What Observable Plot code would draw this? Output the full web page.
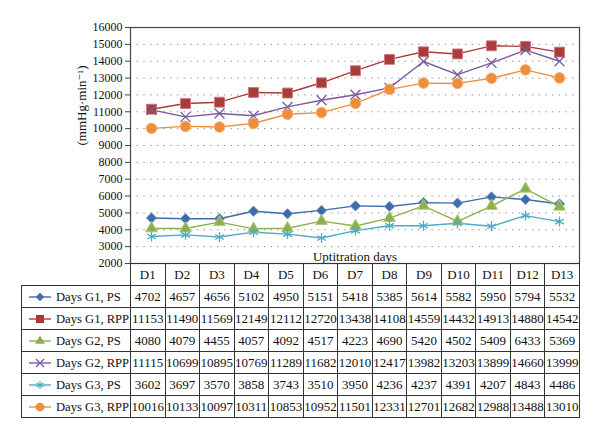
<!DOCTYPE html>
<html>
<head>
<meta charset="utf-8">
<script src="https://cdn.jsdelivr.net/npm/d3@7"></script>
<script src="https://cdn.jsdelivr.net/npm/@observablehq/plot@0.6"></script>
<style>
  body { margin: 0; background: #fff; }
  #wrap { position: relative; width: 600px; height: 437px; font-family: "Liberation Serif", "DejaVu Serif", serif; }
  #chart svg { overflow: visible; }
  table.data { position: absolute; left: 21px; top: 263px; border-collapse: collapse; table-layout: fixed; font-size: 13px; color: #111; }
  table.data td { border: 1px solid #333; padding: 0; height: 21px; text-align: center; white-space: nowrap; overflow: visible; }
  table.data td.blank { border-left: none; border-top: none; background: transparent; }
  table.data td.leg { text-align: left; font-size: 12.6px; }
  table.data td.leg svg { vertical-align: middle; margin-left: 6px; margin-right: 4px; }
  table.data span { vertical-align: middle; }
</style>
</head>
<body>
<div id="wrap">
  <div id="chart"></div>
</div>
<script>
// ---- data ----
const days = ["D1","D2","D3","D4","D5","D6","D7","D8","D9","D10","D11","D12","D13"];
const seriesNames = ["Days G1, PS","Days G1, RPP","Days G2, PS","Days G2, RPP","Days G3, PS","Days G3, RPP"];
const g1PS  = [4702, 4657, 4656, 5102, 4950, 5151, 5418, 5385, 5614, 5582, 5950, 5794, 5532];
const g1RPP = [11153, 11490, 11569, 12149, 12112, 12720, 13438, 14108, 14559, 14432, 14913, 14880, 14542];
const g2PS  = [4080, 4079, 4455, 4057, 4092, 4517, 4223, 4690, 5420, 4502, 5409, 6433, 5369];
const g2RPP = [11115, 10699, 10895, 10769, 11289, 11682, 12010, 12417, 13982, 13203, 13899, 14660, 13999];
const g3PS  = [3602, 3697, 3570, 3858, 3743, 3510, 3950, 4236, 4237, 4391, 4207, 4843, 4486];
const g3RPP = [10016, 10133, 10097, 10311, 10853, 10952, 11501, 12331, 12701, 12682, 12988, 13488, 13010];
const yTicks = [2000,3000,4000,5000,6000,7000,8000,9000,10000,11000,12000,13000,14000,15000,16000];
const yLabel = "(mmHg·min⁻¹)";
const xLabel = "Uptitration days";

const seriesValues = [g1PS, g1RPP, g2PS, g2RPP, g3PS, g3RPP];

// ---- styles ----
const styles = [
  {color: "#3d6ca8", symbol: "diamond2", r: 4.6, fill: "#3d6ca8", stroke: "#6f93c4"},
  {color: "#a83c3c", symbol: "square",   r: 5.6, fill: "#a83c3c", stroke: "#d27b7b"},
  {color: "#8db04c", symbol: "triangle", r: 4.4, fill: "#8db04c", stroke: "#b0cc7e"},
  {color: "#7a5ba0", symbol: "times",    r: 4.6, fill: "none",    stroke: "#7a5ba0"},
  {color: "#4bacc6", symbol: "asterisk", r: 4.7, fill: "none",    stroke: "#4bacc6"},
  {color: "#ee8e3a", symbol: "circle",   r: 5.3, fill: "#ee8e3a", stroke: "#f5b27a"}
];

const data = seriesNames.flatMap((s, i) => seriesValues[i].map((v, j) => ({series: s, day: days[j], value: v})));

const marks = [
  Plot.gridY(yTicks, {stroke: "#888", strokeOpacity: 1, strokeDasharray: "1.3,5.4", strokeWidth: 1}),
  Plot.frame({stroke: "#444", strokeWidth: 1.2}),
  Plot.axisY(yTicks, {tickSize: 5, tickPadding: 3, fontSize: 12, tickFormat: d => String(d), label: null, stroke: "#444"}),
  Plot.text([yLabel], {frameAnchor: "left", dx: -49, rotate: -90, fontSize: 13, fill: "#111"}),
  Plot.text([xLabel], {frameAnchor: "bottom", lineAnchor: "bottom", dy: -2.5, fontSize: 13, fill: "#111"})
];
seriesNames.forEach((s, i) => {
  const st = styles[i];
  const d = data.filter(e => e.series === s);
  marks.push(Plot.line(d, {x: "day", y: "value", stroke: st.color, strokeWidth: 1.4}));
});
seriesNames.forEach((s, i) => {
  const st = styles[i];
  const d = data.filter(e => e.series === s);
  marks.push(Plot.dot(d, {x: "day", y: "value", symbol: st.symbol, r: st.r, fill: st.fill, stroke: st.stroke,
    strokeWidth: st.fill === "none" ? 1.3 : 1}));
});

const chart = Plot.plot({
  width: 600,
  height: 272,
  marginTop: 27,
  marginBottom: 9,
  marginLeft: 130,
  marginRight: 21,
  style: {fontFamily: "Liberation Serif, DejaVu Serif, serif", fontSize: "12px", color: "#111", background: "transparent"},
  x: {type: "point", domain: days, padding: 0.5, axis: null},
  y: {domain: [2000, 16000], axis: null},
  marks
});
document.getElementById("chart").appendChild(chart);

// ---- table ----
const colW = (600 - 130 - 21) / days.length;
const table = document.createElement("table");
table.className = "data";
const cg = document.createElement("colgroup");
const c0 = document.createElement("col"); c0.style.width = "109px"; cg.appendChild(c0);
days.forEach(() => { const c = document.createElement("col"); c.style.width = colW + "px"; cg.appendChild(c); });
table.appendChild(cg);
table.style.width = (109 + colW * days.length) + "px";

const hr = document.createElement("tr");
const blank = document.createElement("td"); blank.className = "blank"; hr.appendChild(blank);
days.forEach(d => { const td = document.createElement("td"); td.textContent = d; hr.appendChild(td); });
table.appendChild(hr);

seriesNames.forEach((s, i) => {
  const st = styles[i];
  const tr = document.createElement("tr");
  tr.style.height = "22px";
  const lg = document.createElement("td"); lg.className = "leg";
  const svg = d3.create("svg").attr("width", 24).attr("height", 14);
  svg.append("line").attr("x1", 1).attr("x2", 23).attr("y1", 7).attr("y2", 7).attr("stroke", st.color).attr("stroke-width", 1.4);
  const symMap = {diamond2: d3.symbolDiamond2, square: d3.symbolSquare, triangle: d3.symbolTriangle,
    times: d3.symbolTimes, asterisk: d3.symbolAsterisk, circle: d3.symbolCircle};
  const rr = st.r * 0.82;
  svg.append("path").attr("transform", "translate(12,7)")
    .attr("d", d3.symbol(symMap[st.symbol], Math.PI * rr * rr)())
    .attr("fill", st.fill).attr("stroke", st.fill === "none" ? st.stroke : "none").attr("stroke-width", 1.3);
  lg.appendChild(svg.node());
  const sp = document.createElement("span"); sp.textContent = s; lg.appendChild(sp);
  tr.appendChild(lg);
  seriesValues[i].forEach(v => { const td = document.createElement("td"); td.textContent = String(v); tr.appendChild(td); });
  table.appendChild(tr);
});
document.getElementById("wrap").appendChild(table);
</script>
</body>
</html>
